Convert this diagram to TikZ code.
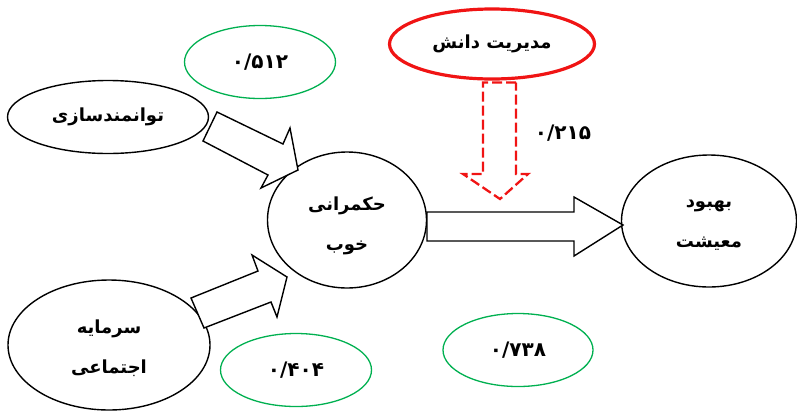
\documentclass[tikz,border=0pt]{standalone}
\usepackage{fontspec}
\usetikzlibrary{shapes.geometric}
\TeXXeTstate=1
\newfontfamily\arabicfont[Script=Arabic]{DejaVu Sans Bold}
\definecolor{grn}{RGB}{0,176,80}
\definecolor{rd}{RGB}{240,20,20}
\begin{document}
\begin{tikzpicture}[x=1pt,y=-1pt,
  ell/.style={ellipse, draw=black, line width=1.4pt, inner sep=0pt},
  txt/.style={align=center, inner sep=0pt, font=\arabicfont\fontsize{18}{40}\selectfont},
  gell/.style={ellipse, draw=grn, line width=1.3pt, inner sep=0pt, font=\arabicfont\fontsize{20}{22}\selectfont},
  rell/.style={ellipse, draw=rd, line width=3.2pt, inner sep=0pt, font=\arabicfont\fontsize{18}{22}\selectfont},
  numlabel/.style={font=\arabicfont\fontsize{20}{22}\selectfont},
  blockarrow/.style={draw=black, line width=1.4pt, fill=white, line join=miter},
  redarrow/.style={draw=rd, line width=2.3pt, dash pattern=on 10pt off 4pt}]
\useasboundingbox (0,0) rectangle (797,413);

\node[ell, minimum width=201pt, minimum height=73pt] (tav) at (108,117) {};
\node[txt] (tavt) at (tav.center) {\beginR توانمندسازی\endR};
\node[ell, minimum width=202pt, minimum height=130pt] (sar) at (109,345) {};
\node[txt] (sart) at ([yshift=-3pt]sar.center) {\beginR سرمایه\endR\\\beginR اجتماعی\endR};
\node[ell, minimum width=159pt, minimum height=136pt] (hok) at (347,220) {};
\node[txt] (hokt) at ([yshift=-6pt]hok.center) {\beginR حکمرانی\endR\\\beginR خوب\endR};
\node[ell, minimum width=175pt, minimum height=132pt] (beh) at (709,221) {};
\node[txt] (beht) at ([yshift=-4pt]beh.center) {\beginR بهبود\endR\\\beginR معیشت\endR};

\node[rell, fill=white, minimum width=205pt, minimum height=70pt] (mod) at (492,44) {\beginR مدیریت دانش\endR};

% red dashed arrow
\coordinate (ra) at (483,82.5);
\coordinate (rb) at (516,82.5);
\draw[redarrow] (rb) -- (ra) -- (483,174) -- (463,174) -- (500,199) -- (528,174) -- (516,174) -- cycle;

\node[gell, minimum width=151pt, minimum height=73pt] (g1) at (260,62) {۰/۵۱۲};
\node[gell, minimum width=151pt, minimum height=73pt] (g2) at (296,370) {۰/۴۰۴};
\node[gell, minimum width=150pt, minimum height=73pt] (g3) at (518,350) {۰/۷۳۸};
\node[numlabel] (l215) at (563,133) {۰/۲۱۵};

% block arrows
\draw[blockarrow] (217,112) -- (283,144) -- (290,128) -- (298,170) -- (261,188) -- (268,175) -- (203,141) -- cycle;
\draw[blockarrow] (204,328) -- (191,298) -- (258,271) -- (252,255) -- (287,277) -- (277,317) -- (271,302) -- cycle;
\draw[blockarrow] (427,212) -- (574,212) -- (574,197) -- (623,225) -- (574,256) -- (574,241) -- (427,241) -- cycle;
\end{tikzpicture}
\end{document}
